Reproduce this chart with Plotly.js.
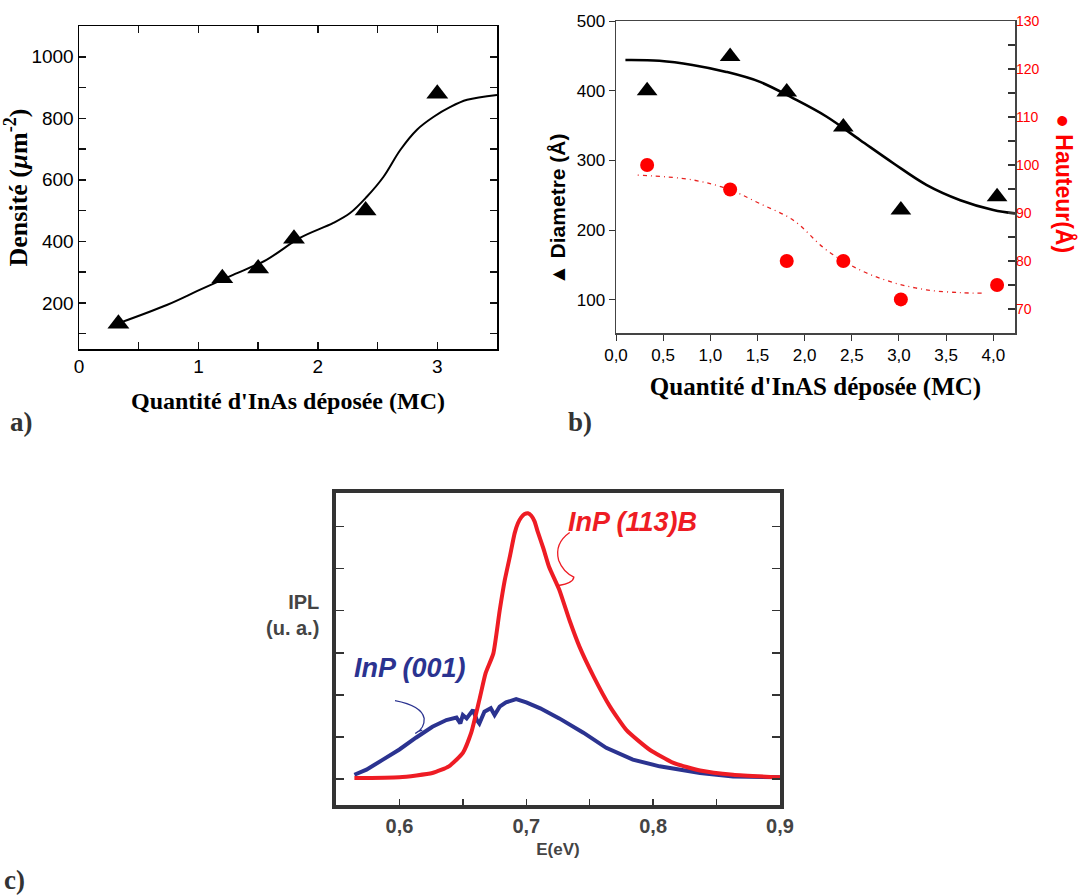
<!DOCTYPE html>
<html><head><meta charset="utf-8">
<script src="https://cdn.plot.ly/plotly-3.0.1.min.js"></script>
<style>html,body{margin:0;padding:0;background:#fff}#chart{width:1091px;height:895px}</style>
</head><body><div id="chart"></div>
<script>
// ---- Panel a: density vs deposited InAs
const aDepot = [0.33, 1.2, 1.5, 1.8, 2.4, 3.0];
const aDensite = [132, 280, 312, 408, 500, 880];
const aFitX = [0.34, 0.735, 1.01, 1.29, 1.57, 1.85, 2.13, 2.27, 2.41, 2.55, 2.69, 2.83, 2.97, 3.11, 3.25, 3.5];
const aFitY = [135, 193, 242, 291, 340, 411, 460, 492, 545, 610, 697, 763, 805, 837, 860, 876];
const aXTicks = [0, 0.5, 1, 1.5, 2, 2.5, 3, 3.5];
const aXLabels = ['0', ' ', '1', ' ', '2', ' ', '3', ' '];
const aYTicks = [100, 200, 300, 400, 500, 600, 700, 800, 900, 1000];
const aYLabels = [' ', '200', ' ', '400', ' ', '600', ' ', '800', ' ', '1000'];

// ---- Panel b: diameter (left) and height (right)
const bDepot = [0.33, 1.21, 1.81, 2.41, 3.02, 4.04];
const bDiametre = [400, 449, 398, 348, 229, 248];
const bHauteur = [100, 94.9, 80, 80, 72, 75];
const bDiamFitX = [0.10, 0.46, 0.81, 1.17, 1.52, 1.88, 2.23, 2.59, 2.94, 3.29, 3.65, 4.0, 4.23];
const bDiamFitY = [444, 443, 437, 427, 413, 389, 363, 329, 296, 265, 243, 229, 224];
const bHautFitX = [0.23, 0.81, 1.2, 1.52, 1.88, 2.23, 2.59, 2.94, 3.29, 3.65, 3.9];
const bHautFitY = [97.9, 96.9, 94.9, 92.0, 88.5, 82.3, 78.1, 75.5, 74.0, 73.4, 73.3];
const bRTicks = [70, 75, 80, 85, 90, 95, 100, 105, 110, 115, 120, 125, 130];
const bRLabels = ['70', ' ', '80', ' ', '90', ' ', '100', ' ', '110', ' ', '120', ' ', '130'];

// ---- Panel c: PL spectra
const cE113 = [0.5645, 0.6, 0.626, 0.639, 0.65, 0.6566, 0.663, 0.668, 0.674, 0.679, 0.683, 0.687, 0.6908, 0.6934, 0.696, 0.6987, 0.7013, 0.704, 0.7066, 0.709, 0.7135, 0.718, 0.726, 0.734, 0.742, 0.753, 0.766, 0.779, 0.797, 0.816, 0.837, 0.863, 0.9];
const cI113 = [0.01, 0.02, 0.07, 0.15, 0.31, 0.55, 0.94, 1.26, 1.49, 2.0, 2.36, 2.64, 2.92, 3.04, 3.11, 3.15, 3.16, 3.13, 3.06, 2.94, 2.74, 2.52, 2.25, 1.89, 1.57, 1.22, 0.86, 0.58, 0.35, 0.19, 0.10, 0.05, 0.02];
const cE001 = [0.5645, 0.574, 0.587, 0.6, 0.613, 0.626, 0.637, 0.645, 0.648, 0.650, 0.653, 0.658, 0.661, 0.663, 0.667, 0.672, 0.675, 0.679, 0.684, 0.692, 0.7, 0.711, 0.726, 0.745, 0.763, 0.784, 0.805, 0.837, 0.863, 0.9];
const cI001 = [0.05, 0.11, 0.23, 0.35, 0.49, 0.62, 0.70, 0.73, 0.66, 0.76, 0.72, 0.82, 0.70, 0.66, 0.80, 0.84, 0.76, 0.86, 0.91, 0.95, 0.91, 0.84, 0.72, 0.55, 0.37, 0.23, 0.15, 0.07, 0.03, 0.02];
const cXTicks = [0.55, 0.6, 0.65, 0.7, 0.75, 0.8, 0.85, 0.9];
const cXLabels = [' ', '0,6', ' ', '0,7', ' ', '0,8', ' ', '0,9'];
const cYTicks = [0, 0.5, 1, 1.5, 2, 2.5, 3];

const W = 1091, H = 895;
const px = v => v / W, py = v => 1 - v / H;
const SANS = 'Liberation Sans, Arial, sans-serif';
const SERIF = 'Liberation Serif, Times New Roman, serif';
const GRAY = '#444';

const traces = [
  {x: aFitX, y: aFitY, xaxis: 'x', yaxis: 'y', mode: 'lines', line: {color: '#000', width: 2, shape: 'spline'}},
  {x: aDepot, y: aDensite, xaxis: 'x', yaxis: 'y', mode: 'markers', marker: {symbol: 'triangle-up', size: 19, color: '#000'}},
  {x: bDiamFitX, y: bDiamFitY, xaxis: 'x2', yaxis: 'y2', mode: 'lines', line: {color: '#000', width: 2.6, shape: 'spline'}},
  {x: bDepot, y: bDiametre, xaxis: 'x2', yaxis: 'y2', mode: 'markers', marker: {symbol: 'triangle-up', size: 18, color: '#000'}},
  {x: bHautFitX, y: bHautFitY, xaxis: 'x2', yaxis: 'y3', mode: 'lines', line: {color: '#e8211f', width: 1.3, dash: '1px,4px,4px,4px', shape: 'spline'}},
  {x: bDepot, y: bHauteur, xaxis: 'x2', yaxis: 'y3', mode: 'markers', marker: {symbol: 'circle', size: 14, color: '#ff0000'}},
  {x: cE001, y: cI001, xaxis: 'x3', yaxis: 'y4', mode: 'lines', line: {color: '#2b3390', width: 4}},
  {x: cE113, y: cI113, xaxis: 'x3', yaxis: 'y4', mode: 'lines', line: {color: '#ee1c24', width: 4, shape: 'spline', smoothing: 0.5}}
];

const baseA = {tickmode: 'array', ticks: 'inside', ticklen: 7, tickwidth: 1.5, tickcolor: '#111', showline: true, linecolor: '#000', linewidth: 1.5,
  mirror: 'ticks', showgrid: false, zeroline: false, tickfont: {family: SANS, size: 19, color: '#000'}};

const layout = {
  width: W, height: H, margin: {l: 0, r: 0, t: 0, b: 0},
  paper_bgcolor: '#fff', plot_bgcolor: 'rgba(0,0,0,0)',
  showlegend: false, separators: ',.',
  xaxis: Object.assign({}, baseA, {domain: [px(79), px(497)], range: [0, 3.5], tickvals: aXTicks, ticktext: aXLabels, anchor: 'y',
    title: {text: "Quantité d'InAs déposée (MC)", font: {family: SERIF, size: 24, color: '#000', weight: 'bold'}, standoff: 16}}),
  yaxis: Object.assign({}, baseA, {domain: [py(349), py(26)], range: [50, 1100], tickvals: aYTicks, ticktext: aYLabels, anchor: 'x',
    title: {text: 'Densité (<i>µ</i>m<sup>-2</sup>)', font: {family: SERIF, size: 26, color: '#000', weight: 'bold'}, standoff: 4}}),
  xaxis2: {domain: [px(616), px(1015)], range: [0, 4.23], dtick: 0.5, tick0: 0, tickformat: '.1f', anchor: 'y2',
    ticks: 'outside', ticklen: 6, tickcolor: '#333', showline: true, linecolor: '#444', linewidth: 1.5, mirror: true, showgrid: false, zeroline: false,
    tickfont: {family: SANS, size: 17, color: '#000'},
    title: {text: "Quantité d'InAS déposée (MC)", font: {family: SERIF, size: 25, color: '#000', weight: 'bold'}, standoff: 13}},
  yaxis2: {domain: [py(333), py(21)], range: [52.5, 500], dtick: 100, tick0: 0, anchor: 'x2',
    ticks: 'outside', ticklen: 6, tickcolor: '#333', showline: true, linecolor: '#444', linewidth: 1.5, mirror: true, showgrid: false, zeroline: false,
    tickfont: {family: SANS, size: 17, color: '#000'}},
  yaxis3: {overlaying: 'y2', side: 'right', anchor: 'x2', range: [65, 130], tickmode: 'array', tickvals: bRTicks, ticktext: bRLabels,
    ticks: 'inside', ticklen: 7, tickwidth: 1.5, tickcolor: '#333', showline: false, showgrid: false, zeroline: false,
    tickfont: {family: SANS, size: 14, color: '#ff0000'}},
  xaxis3: {domain: [px(336), px(780)], range: [0.55, 0.9], tickmode: 'array', tickvals: cXTicks, ticktext: cXLabels, anchor: 'y4',
    ticks: 'inside', ticklen: 6, tickwidth: 1.5, tickcolor: '#333',
    showline: true, linecolor: '#333', linewidth: 4, mirror: true, showgrid: false, zeroline: false,
    tickfont: {family: SANS, size: 20, color: GRAY, weight: 'bold'},
    title: {text: 'E(eV)', font: {family: SANS, size: 17, color: GRAY, weight: 'bold'}, standoff: 8}},
  yaxis4: {domain: [py(805), py(493)], range: [-0.31, 3.4], tickmode: 'array', tickvals: cYTicks, showticklabels: false, anchor: 'x3',
    ticks: 'inside', ticklen: 8, tickwidth: 1.5, tickcolor: '#333',
    showline: true, linecolor: '#333', linewidth: 4, mirror: 'ticks', showgrid: false, zeroline: false},
  annotations: [
    {xref: 'paper', yref: 'paper', x: px(558), y: py(210), xanchor: 'center', yanchor: 'middle', text: '▲ Diametre (Å)', textangle: -90, showarrow: false,
      font: {family: SANS, size: 21, color: '#000', weight: 'bold'}},
    {xref: 'paper', yref: 'paper', x: px(1064), y: py(183), xanchor: 'center', yanchor: 'middle', text: '● Hauteur(Å)', textangle: 90, showarrow: false,
      font: {family: SANS, size: 23, color: '#ff0000', weight: 'bold'}},
    {xref: 'paper', yref: 'paper', x: px(8), y: py(422), xanchor: 'left', yanchor: 'middle', text: 'a)', showarrow: false,
      font: {family: SERIF, size: 27, color: '#333', weight: 'bold'}},
    {xref: 'paper', yref: 'paper', x: px(566), y: py(422), xanchor: 'left', yanchor: 'middle', text: 'b)', showarrow: false,
      font: {family: SERIF, size: 27, color: '#333', weight: 'bold'}},
    {xref: 'paper', yref: 'paper', x: px(2), y: py(880), xanchor: 'left', yanchor: 'middle', text: 'c)', showarrow: false,
      font: {family: SERIF, size: 27, color: '#333', weight: 'bold'}},
    {xref: 'paper', yref: 'paper', x: px(321), y: py(615), xanchor: 'right', yanchor: 'middle', align: 'right', text: 'IPL<br>(u. a.)', showarrow: false,
      font: {family: SANS, size: 20, color: GRAY, weight: 'bold'}},
    {xref: 'x3', yref: 'y4', x: 0.784, y: 3.05, xanchor: 'center', yanchor: 'middle', text: 'InP (113)B', showarrow: false,
      font: {family: SANS, size: 27, color: '#ee1c24', weight: 'bold', style: 'italic'}},
    {xref: 'x3', yref: 'y4', x: 0.608, y: 1.32, xanchor: 'center', yanchor: 'middle', text: 'InP (001)', showarrow: false,
      font: {family: SANS, size: 27, color: '#2b3390', weight: 'bold', style: 'italic'}}
  ],
  shapes: [
    {type: 'path', xref: 'x3', yref: 'y4', path: 'M0.7342,2.93 Q0.722,2.80 0.7255,2.60 Q0.729,2.46 0.7375,2.40 Q0.737,2.33 0.7255,2.30',
      line: {color: '#ee1c24', width: 1.3}},
    {type: 'path', xref: 'x3', yref: 'y4', path: 'M0.5965,0.93 Q0.6175,0.87 0.6195,0.72 Q0.620,0.60 0.6125,0.54 Q0.6145,0.57 0.618,0.58',
      line: {color: '#2b3390', width: 1.3}}
  ]
};

Plotly.newPlot('chart', traces, layout, {staticPlot: true, displayModeBar: false});
</script></body></html>
